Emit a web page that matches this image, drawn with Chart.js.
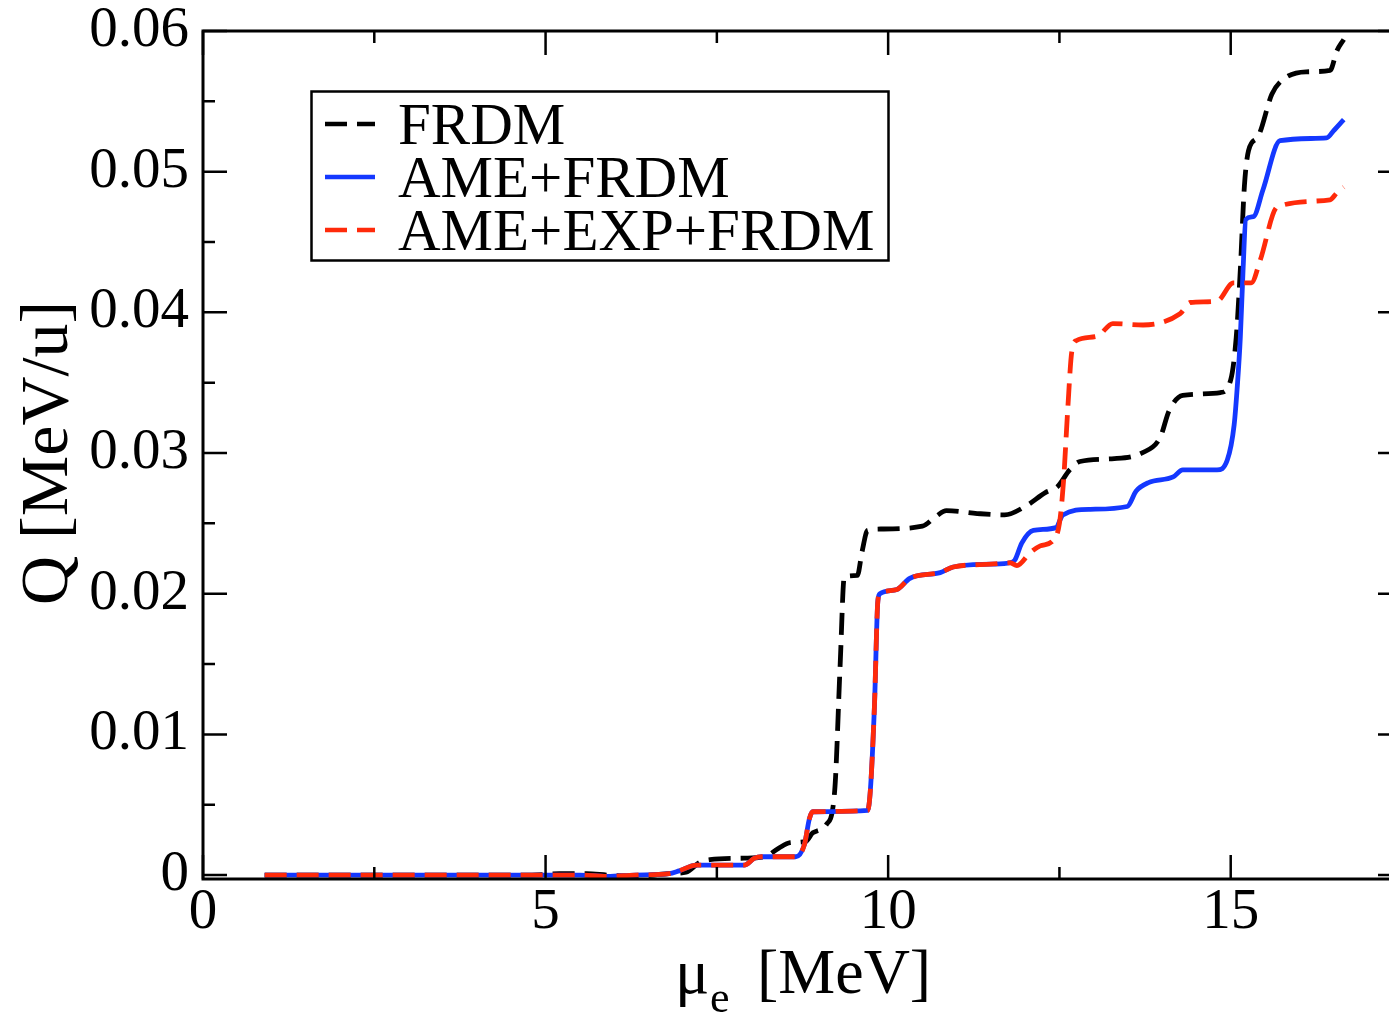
<!DOCTYPE html>
<html>
<head>
<meta charset="utf-8">
<script src="https://cdn.jsdelivr.net/npm/chart.js@4/dist/chart.umd.min.js"></script>
<style>
  html, body { margin: 0; padding: 0; overflow: hidden; background: #fff; }
  canvas { display: block; }
</style>
</head>
<body>
<canvas id="qChart" width="1404" height="1016"></canvas>
<script>
// axis ticks
var xTicks = [0, 5, 10, 15];
var xMinor = [2.5, 7.5, 12.5, 17.5];
var yTicks = [0, 0.01, 0.02, 0.03, 0.04, 0.05, 0.06];
var yMinor = [0.005, 0.015, 0.025, 0.035, 0.045, 0.055];

// FRDM
var frdmX = [0.9, 2, 3, 4, 4.8, 5.2, 5.6, 5.9, 6.3, 6.8, 7.05, 7.25, 7.4, 7.9, 8.2, 8.4, 8.57, 8.8, 8.9, 9.1, 9.22, 9.3, 9.36, 9.55, 9.62, 9.7, 9.9, 10.5, 10.7, 10.85, 11.3, 11.7, 12.0, 12.3, 12.47, 12.65, 12.8, 13.3, 13.7, 13.97, 14.1, 14.3, 14.85, 15.0, 15.08, 15.14, 15.2, 15.26, 15.4, 15.6, 15.75, 16.1, 16.45, 16.55, 16.65];
var frdmY = [0, 0, 0, 0, 0, 0.0001, 0.0001, 0, -0.0001, 0.0001, 0.0002, 0.0009, 0.0011, 0.0012, 0.0013, 0.0019, 0.0023, 0.0024, 0.003, 0.0036, 0.006, 0.015, 0.0212, 0.0213, 0.023, 0.0245, 0.0246, 0.0248, 0.0255, 0.0259, 0.0257, 0.0256, 0.0262, 0.0272, 0.0276, 0.0288, 0.0294, 0.0296, 0.030, 0.0311, 0.033, 0.0341, 0.0343, 0.0352, 0.0382, 0.043, 0.049, 0.0515, 0.0525, 0.0555, 0.0565, 0.0571, 0.0572, 0.0586, 0.0594];

// AME+FRDM
var ameX = [0.9, 2, 3, 4, 5, 5.5, 5.9, 6.3, 6.8, 6.95, 7.2, 7.9, 8.05, 8.15, 8.65, 8.78, 8.85, 8.9, 9.7, 9.74, 9.8, 9.85, 9.88, 10.13, 10.32, 10.76, 10.95, 11.5, 11.78, 11.85, 11.95, 12.12, 12.45, 12.55, 12.95, 13.49, 13.62, 13.8, 14.16, 14.3, 14.8, 14.95, 15.05, 15.1, 15.14, 15.18, 15.22, 15.33, 15.47, 15.72, 16.4, 16.5, 16.65];
var ameY = [0, 0, 0, 0, 0, 0, -0.0001, 0, 0.0001, 0.0003, 0.0007, 0.0007, 0.0012, 0.0013, 0.0013, 0.0022, 0.004, 0.0045, 0.0046, 0.006, 0.012, 0.0195, 0.0200, 0.0203, 0.0211, 0.0215, 0.0219, 0.0221, 0.0222, 0.0224, 0.0236, 0.0245, 0.0247, 0.0256, 0.026, 0.0262, 0.0273, 0.0279, 0.0283, 0.0288, 0.0288, 0.0295, 0.032, 0.035, 0.0382, 0.043, 0.0466, 0.0468, 0.0487, 0.0522, 0.0524, 0.0529, 0.0537];

// AME+EXP+FRDM
var expX = [0.9, 2, 3, 4, 5, 5.5, 5.9, 6.3, 6.8, 6.95, 7.2, 7.9, 8.05, 8.15, 8.65, 8.78, 8.85, 8.9, 9.7, 9.74, 9.8, 9.85, 9.88, 10.13, 10.32, 10.76, 10.95, 11.5, 11.78, 11.88, 12.07, 12.22, 12.41, 12.5, 12.56, 12.62, 12.68, 12.75, 13.05, 13.28, 13.72, 14.26, 14.41, 14.8, 15.04, 15.3, 15.43, 15.68, 16.45, 16.55, 16.65];
var expY = [0, 0, 0, 0, 0, 0, -0.0001, 0, 0.0001, 0.0003, 0.0007, 0.0007, 0.0012, 0.0013, 0.0013, 0.0022, 0.004, 0.0045, 0.0046, 0.006, 0.012, 0.0195, 0.0200, 0.0203, 0.0211, 0.0215, 0.0219, 0.0221, 0.0222, 0.022, 0.0229, 0.0234, 0.0238, 0.025, 0.028, 0.033, 0.0372, 0.038, 0.0383, 0.0392, 0.0391, 0.0399, 0.0407, 0.0408, 0.0421, 0.0421, 0.0437, 0.0475, 0.048, 0.0485, 0.0489];

var SERIF = '"Liberation Serif", "Times New Roman", serif';

function pts(xs, ys) {
  return xs.map(function (x, i) { return { x: x, y: ys[i] }; });
}

// frame, inward ticks, legend and axis titles
var decor = {
  id: 'decor',
  afterDraw: function (chart) {
    var ctx = chart.ctx, a = chart.chartArea;
    var xs = chart.scales.x, ys = chart.scales.y;
    ctx.save();
    ctx.strokeStyle = '#000';
    ctx.lineWidth = 3;
    ctx.strokeRect(a.left, a.top, a.right - a.left, a.bottom - a.top);

    ctx.lineWidth = 2.5;
    ctx.beginPath();
    function xt(v, len) {
      var p = xs.getPixelForValue(v);
      ctx.moveTo(p, a.bottom); ctx.lineTo(p, a.bottom - len);
      ctx.moveTo(p, a.top); ctx.lineTo(p, a.top + len);
    }
    function yt(v, len) {
      var p = ys.getPixelForValue(v);
      ctx.moveTo(a.left, p); ctx.lineTo(a.left + len, p);
      ctx.moveTo(a.right, p); ctx.lineTo(a.right - len, p);
    }
    xTicks.forEach(function (v) { xt(v, 24); });
    xMinor.forEach(function (v) { xt(v, 12); });
    yTicks.forEach(function (v) { yt(v, 24); });
    yMinor.forEach(function (v) { yt(v, 12); });
    ctx.stroke();

    // legend box
    ctx.lineWidth = 2.5;
    ctx.strokeRect(311.5, 91.5, 577, 169);
    ctx.font = '59px ' + SERIF;
    ctx.fillStyle = '#000';
    ctx.textBaseline = 'alphabetic';
    ctx.textAlign = 'left';
    var rowY = [124, 177, 230];
    chart.data.datasets.forEach(function (ds, i) {
      ctx.beginPath();
      ctx.strokeStyle = ds.borderColor;
      ctx.lineWidth = 4.5;
      ctx.setLineDash(ds.borderDash || []);
      ctx.moveTo(325, rowY[i]);
      ctx.lineTo(375, rowY[i]);
      ctx.stroke();
      ctx.setLineDash([]);
      ctx.fillText(ds.label, 398, rowY[i] + 20);
    });

    // axis titles
    ctx.fillStyle = '#000';
    ctx.font = '64px ' + SERIF;
    ctx.fillText('\u03bc', 675, 993);
    ctx.font = '44px ' + SERIF;
    ctx.fillText('e', 710, 1012);
    ctx.font = '64px ' + SERIF;
    ctx.fillText('[MeV]', 757, 993);

    ctx.translate(67, 453);
    ctx.rotate(-Math.PI / 2);
    ctx.textAlign = 'center';
    ctx.font = '68px ' + SERIF;
    ctx.fillText('Q [MeV/u]', 0, 0);
    ctx.restore();
  }
};

function noPad(s) {
  s.paddingTop = 0; s.paddingBottom = 0; s.paddingLeft = 0; s.paddingRight = 0;
}

var chart = new Chart(document.getElementById('qChart').getContext('2d'), {
  type: 'line',
  data: {
    datasets: [{
      label: 'FRDM',
      data: pts(frdmX, frdmY),
      borderColor: '#000000',
      borderDash: [22, 10],
      order: 3
    }, {
      label: 'AME+FRDM',
      data: pts(ameX, ameY),
      borderColor: '#1438ff',
      order: 2
    }, {
      label: 'AME+EXP+FRDM',
      data: pts(expX, expY),
      borderColor: '#ff2a0a',
      borderDash: [22, 10],
      order: 1
    }]
  },
  options: {
    responsive: false,
    animation: false,
    devicePixelRatio: 1,
    layout: { padding: { top: 31, right: 2, left: 0, bottom: 0 } },
    elements: {
      point: { radius: 0 },
      line: { borderWidth: 4.8, cubicInterpolationMode: 'monotone', fill: false, borderCapStyle: 'butt' }
    },
    plugins: {
      legend: { display: false },
      tooltip: { enabled: false },
      title: { display: false }
    },
    scales: {
      x: {
        type: 'linear',
        min: 0,
        max: 17.5,
        grid: { display: false, drawTicks: false },
        border: { display: false },
        afterBuildTicks: function (s) { s.ticks = xTicks.map(function (v) { return { value: v }; }); },
        afterFit: function (s) { s.height = 137; noPad(s); },
        ticks: {
          color: '#000',
          padding: 6,
          maxRotation: 0,
          font: { family: SERIF, size: 57, lineHeight: 1 },
          callback: function (v) { return String(v); }
        }
      },
      y: {
        type: 'linear',
        min: -0.00028,
        max: 0.06,
        grid: { display: false, drawTicks: false },
        border: { display: false },
        afterBuildTicks: function (s) { s.ticks = yTicks.map(function (v) { return { value: v }; }); },
        afterFit: function (s) { s.width = 203; noPad(s); },
        ticks: {
          color: '#000',
          padding: 14,
          font: { family: SERIF, size: 57, lineHeight: 1 },
          callback: function (v) { return v === 0 ? '0' : v.toFixed(2); }
        }
      }
    }
  },
  plugins: [decor]
});
</script>
</body>
</html>
